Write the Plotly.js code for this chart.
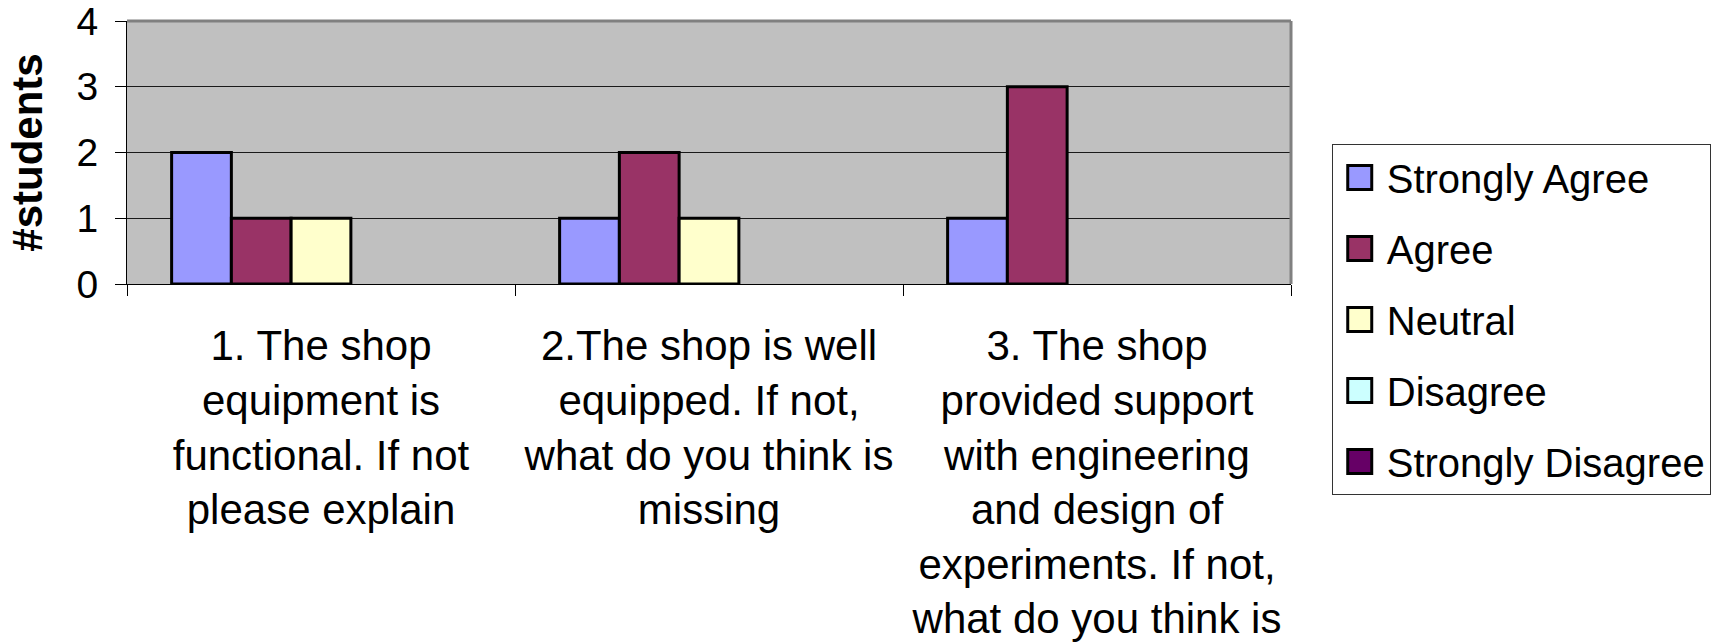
<!DOCTYPE html>
<html>
<head>
<meta charset="utf-8">
<script src="https://cdn.plot.ly/plotly-3.0.1.min.js"></script>
<style>
  html, body { margin: 0; padding: 0; background: #ffffff; }
  #chart { width: 1717px; height: 643px; }
</style>
</head>
<body>
<div id="chart"></div>
<script>
const categories = [
  "1. The shop<br>equipment is<br>functional. If not<br>please explain",
  "2.The shop is well<br>equipped. If not,<br>what do you think is<br>missing",
  "3. The shop<br>provided support<br>with engineering<br>and design of<br>experiments. If not,<br>what do you think is<br>missing"
];
const seriesNames = ["Strongly Agree", "Agree", "Neutral", "Disagree", "Strongly Disagree"];
const stronglyAgree = [2, 1, 1];
const agree = [1, 2, 3];
const neutral = [1, 1, 0];
const disagree = [0, 0, 0];
const stronglyDisagree = [0, 0, 0];
const seriesColors = ["#9999FF", "#993366", "#FFFFCC", "#CCFFFF", "#660066"];
const yTickValues = [0, 1, 2, 3, 4];

const seriesValues = [stronglyAgree, agree, neutral, disagree, stronglyDisagree];
const FONT = "Liberation Sans, Arial, sans-serif";

const traces = seriesValues.map((vals, i) => ({
  type: "bar",
  name: seriesNames[i],
  legendgroup: "g" + i,
  x: categories,
  y: vals,
  marker: {
    color: seriesColors[i],
    line: { color: "#000000", width: vals.map(v => (v === 0 ? 0 : 3)) }
  },
  hoverinfo: "x+y+name"
}));

const layout = {
  width: 1717,
  height: 643,
  margin: { l: 127, r: 426, t: 21, b: 359, pad: 0, autoexpand: false },
  paper_bgcolor: "#ffffff",
  plot_bgcolor: "#C0C0C0",
  font: { family: FONT, color: "#000000", size: 40 },
  barmode: "group",
  bargap: 0.23,
  bargroupgap: 0,
  showlegend: true,
  legend: {
    x: 1.035, xanchor: "left",
    y: 0.532, yanchor: "top",
    bgcolor: "#ffffff",
    bordercolor: "#333333",
    borderwidth: 1,
    font: { family: FONT, size: 40, color: "#000000" },
    tracegroupgap: 16,
    itemwidth: 44,
    maxheight: 460
  },
  xaxis: {
    type: "category",
    showgrid: false,
    showline: true,
    linecolor: "#000000",
    linewidth: 1,
    ticks: "outside",
    tickson: "boundaries",
    ticklen: 11,
    tickcolor: "#000000",
    tickwidth: 1,
    ticklabelstandoff: 25,
    ticklabeloverflow: "allow",
    tickfont: { family: FONT, size: 42, color: "#000000" },
    zeroline: false,
    fixedrange: true
  },
  yaxis: {
    range: [0, 4],
    tickvals: yTickValues,
    ticktext: yTickValues.map(String),
    showgrid: true,
    gridcolor: "#1a1a1a",
    gridwidth: 1,
    showline: true,
    linecolor: "#000000",
    linewidth: 1,
    ticks: "outside",
    ticklen: 11,
    tickcolor: "#000000",
    ticklabelstandoff: 9,
    ticklabeloverflow: "allow",
    tickfont: { family: FONT, size: 39, color: "#000000" },
    zeroline: false,
    title: { text: "<b>#students</b>", font: { family: FONT, size: 42, color: "#000000" }, standoff: 20 },
    fixedrange: true
  },
  shapes: [
    { type: "line", xref: "paper", yref: "paper", x0: 0, x1: 1, y0: 1, y1: 1, line: { color: "#808080", width: 3 } },
    { type: "line", xref: "paper", yref: "paper", x0: 1, x1: 1, y0: 0, y1: 1, line: { color: "#808080", width: 3 } }
  ]
};

Plotly.newPlot("chart", traces, layout, { displayModeBar: false, staticPlot: true }).then(function (gd) {
  gd.querySelectorAll(".legend .legendpoints path").forEach(function (p) {
    const t = p.getAttribute("transform") || "";
    p.setAttribute("transform", t + " scale(2)");
    p.style.strokeWidth = "1.5px";
    p.style.stroke = "#000000";
  });
});
</script>
</body>
</html>
